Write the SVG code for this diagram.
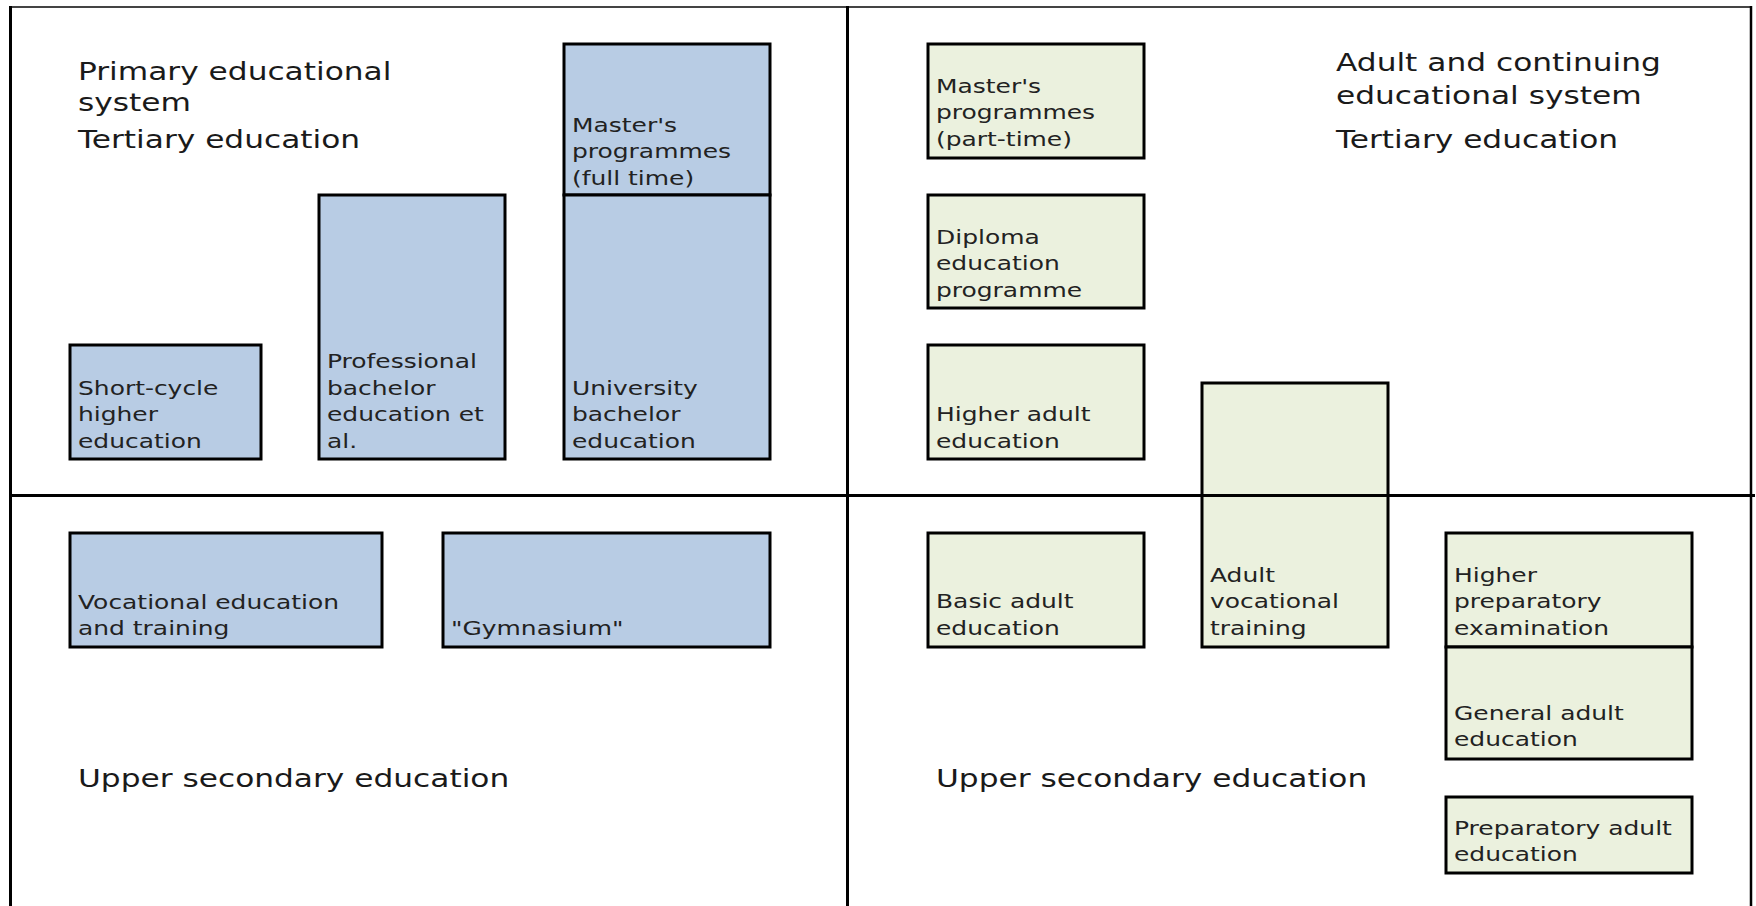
<svg xmlns="http://www.w3.org/2000/svg" width="1756" height="906" viewBox="0 0 1756 906">
<style>
  .bg { fill: #ffffff; }
  .blue { fill: #B8CCE4; stroke: #000; stroke-width: 3; }
  .green { fill: #EBF1DE; stroke: #000; stroke-width: 3; }
  .lbl { font-family: "DejaVu Sans", "Liberation Sans", sans-serif; font-size: 19.5px; fill: #222; }
  .ttl { font-family: "DejaVu Sans", "Liberation Sans", sans-serif; font-size: 25px; fill: #1a1a1a; }
  .frame { stroke: #000; stroke-width: 3; fill: none; }
  .top { stroke: #444; stroke-width: 2; fill: none; }
</style>
<rect class="bg" x="0" y="0" width="1756" height="906"/>

<!-- Primary educational system: tertiary -->
<g id="title-primary">
  <text class="ttl" transform="translate(78 0) scale(1.25 1)"><tspan x="0" y="80">Primary educational</tspan><tspan x="0" y="111">system</tspan><tspan x="0" y="148">Tertiary education</tspan></text>
</g>
<g id="short-cycle">
  <rect class="blue" x="70" y="345" width="191" height="114"/>
  <text class="lbl" transform="translate(78 0) scale(1.28 1)"><tspan x="0" y="395">Short-cycle</tspan><tspan x="0" y="421.5">higher</tspan><tspan x="0" y="448">education</tspan></text>
</g>
<g id="professional-bachelor">
  <rect class="blue" x="319" y="195" width="186" height="264"/>
  <text class="lbl" transform="translate(327 0) scale(1.28 1)"><tspan x="0" y="368">Professional</tspan><tspan x="0" y="395">bachelor</tspan><tspan x="0" y="421.5">education et</tspan><tspan x="0" y="448">al.</tspan></text>
</g>
<g id="masters-full-time">
  <rect class="blue" x="564" y="44" width="206" height="151"/>
  <text class="lbl" transform="translate(572 0) scale(1.28 1)"><tspan x="0" y="132">Master's</tspan><tspan x="0" y="158.5">programmes</tspan><tspan x="0" y="185">(full time)</tspan></text>
</g>
<g id="university-bachelor">
  <rect class="blue" x="564" y="195" width="206" height="264"/>
  <text class="lbl" transform="translate(572 0) scale(1.28 1)"><tspan x="0" y="395">University</tspan><tspan x="0" y="421.5">bachelor</tspan><tspan x="0" y="448">education</tspan></text>
</g>

<!-- Primary: upper secondary -->
<g id="vocational-education">
  <rect class="blue" x="70" y="533" width="312" height="114"/>
  <text class="lbl" transform="translate(78 0) scale(1.28 1)"><tspan x="0" y="609">Vocational education</tspan><tspan x="0" y="635.5">and training</tspan></text>
</g>
<g id="gymnasium">
  <rect class="blue" x="443" y="533" width="327" height="114"/>
  <text class="lbl" transform="translate(451 0) scale(1.28 1)"><tspan x="0" y="635.5">"Gymnasium"</tspan></text>
</g>
<g id="title-upper-secondary-left">
  <text class="ttl" transform="translate(78 0) scale(1.25 1)"><tspan x="0" y="787">Upper secondary education</tspan></text>
</g>

<!-- Adult and continuing: tertiary -->
<g id="title-adult">
  <text class="ttl" transform="translate(1336 0) scale(1.25 1)"><tspan x="0" y="71">Adult and continuing</tspan><tspan x="0" y="104">educational system</tspan><tspan x="0" y="148">Tertiary education</tspan></text>
</g>
<g id="masters-part-time">
  <rect class="green" x="928" y="44" width="216" height="114"/>
  <text class="lbl" transform="translate(936 0) scale(1.28 1)"><tspan x="0" y="93">Master's</tspan><tspan x="0" y="119.5">programmes</tspan><tspan x="0" y="146">(part-time)</tspan></text>
</g>
<g id="diploma-education">
  <rect class="green" x="928" y="195" width="216" height="113"/>
  <text class="lbl" transform="translate(936 0) scale(1.28 1)"><tspan x="0" y="244">Diploma</tspan><tspan x="0" y="270.5">education</tspan><tspan x="0" y="297">programme</tspan></text>
</g>
<g id="higher-adult-education">
  <rect class="green" x="928" y="345" width="216" height="114"/>
  <text class="lbl" transform="translate(936 0) scale(1.28 1)"><tspan x="0" y="421.5">Higher adult</tspan><tspan x="0" y="448">education</tspan></text>
</g>
<g id="adult-vocational-training">
  <rect class="green" x="1202" y="383" width="186" height="264"/>
  <text class="lbl" transform="translate(1210 0) scale(1.28 1)"><tspan x="0" y="582">Adult</tspan><tspan x="0" y="608.5">vocational</tspan><tspan x="0" y="635">training</tspan></text>
</g>

<!-- Adult: upper secondary -->
<g id="basic-adult-education">
  <rect class="green" x="928" y="533" width="216" height="114"/>
  <text class="lbl" transform="translate(936 0) scale(1.28 1)"><tspan x="0" y="608.5">Basic adult</tspan><tspan x="0" y="635">education</tspan></text>
</g>
<g id="higher-preparatory-examination">
  <rect class="green" x="1446" y="533" width="246" height="114"/>
  <text class="lbl" transform="translate(1454 0) scale(1.28 1)"><tspan x="0" y="582">Higher</tspan><tspan x="0" y="608.5">preparatory</tspan><tspan x="0" y="635">examination</tspan></text>
</g>
<g id="general-adult-education">
  <rect class="green" x="1446" y="647" width="246" height="112"/>
  <text class="lbl" transform="translate(1454 0) scale(1.28 1)"><tspan x="0" y="720">General adult</tspan><tspan x="0" y="746.5">education</tspan></text>
</g>
<g id="preparatory-adult-education">
  <rect class="green" x="1446" y="797" width="246" height="76"/>
  <text class="lbl" transform="translate(1454 0) scale(1.28 1)"><tspan x="0" y="835">Preparatory adult</tspan><tspan x="0" y="861.5">education</tspan></text>
</g>
<g id="title-upper-secondary-right">
  <text class="ttl" transform="translate(936 0) scale(1.25 1)"><tspan x="0" y="787">Upper secondary education</tspan></text>
</g>

<!-- panel frame -->
<g id="frame">
  <line class="top" x1="10" y1="7" x2="1752" y2="7"/>
  <line class="frame" x1="10.5" y1="6" x2="10.5" y2="906"/>
  <line class="frame" x1="847.5" y1="6" x2="847.5" y2="906"/>
  <line class="frame" x1="1751" y1="6" x2="1751" y2="906" style="stroke-width:2.5"/>
  <line class="frame" x1="9" y1="495.5" x2="1755" y2="495.5"/>
</g>
</svg>
